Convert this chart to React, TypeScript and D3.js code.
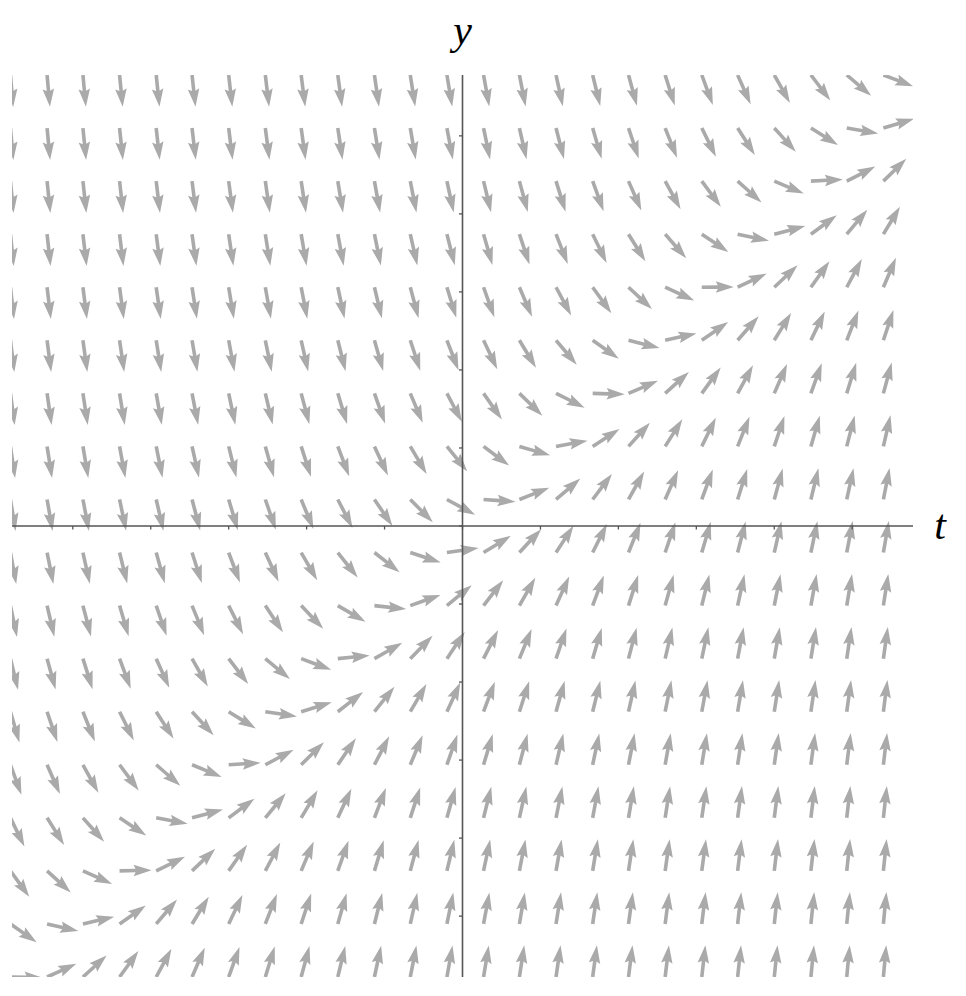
import React, { useEffect, useRef } from 'react';
import * as d3 from 'd3';

// grid of arrow tails (t and y values)
const tGrid = [-5.8, -5.33, -4.87, -4.4, -3.93, -3.47, -3.0, -2.53, -2.07, -1.6, -1.13, -0.67, -0.2,
  0.27, 0.73, 1.2, 1.67, 2.13, 2.6, 3.07, 3.53, 4.0, 4.47, 4.93, 5.4];
const yGrid = [5.78, 5.1, 4.42, 3.74, 3.06, 2.38, 1.7, 1.02, 0.34, -0.34, -1.02, -1.7, -2.38, -3.06,
  -3.74, -4.42, -5.1, -5.78];
const tickValues = [-5, -4, -3, -2, -1, 0, 1, 2, 3, 4, 5];
const axisLabels = { t: 't', y: 'y' };

// slope field dy/dt = t - y
const slope = (t: number, y: number) => t - y;

const W = 966;
const H = 996;

const App = () => {
  const ref = useRef<SVGSVGElement>(null);

  useEffect(() => {
    const svg = d3.select(ref.current);
    svg.selectAll('*').remove();

    const x = d3.scaleLinear().domain([-5.78, 5.78]).range([12, 913]);
    const y = d3.scaleLinear().domain([-5.78, 5.78]).range([977, 75]);

    svg.append('defs').append('clipPath').attr('id', 'plot')
      .append('rect')
      .attr('x', 12).attr('y', 75)
      .attr('width', 901).attr('height', 902);

    const pts = d3.cross(tGrid, yGrid).map(([t, yy]) => ({ t, y: yy, s: slope(t, yy) }));

    // arrow shape along +x, tail at origin
    const L = 32, sw = 3.6, hw = 11.5, hl = 18, ha = 16;
    const arrowPath = `M0,${-sw / 2} L${L - ha},${-sw / 2} L${L - hl},${-hw / 2} L${L},0 L${L - hl},${hw / 2} L${L - ha},${sw / 2} L0,${sw / 2} Z`;

    svg.append('g').attr('clip-path', 'url(#plot)')
      .selectAll('path')
      .data(pts)
      .join('path')
      .attr('d', arrowPath)
      .attr('fill', '#aaaaaa')
      .attr('transform', d => {
        const ang = -Math.atan(d.s) * 180 / Math.PI;
        return `translate(${x(d.t)},${y(d.y)}) rotate(${ang})`;
      });

    const axisColor = '#555';
    const g = svg.append('g');
    // x axis
    g.append('line')
      .attr('x1', 12).attr('x2', 913)
      .attr('y1', y(0)).attr('y2', y(0))
      .attr('stroke', axisColor).attr('stroke-width', 1.6);
    g.selectAll('.xt').data(tickValues).join('line')
      .attr('x1', d => x(d)).attr('x2', d => x(d))
      .attr('y1', y(0)).attr('y2', y(0) + 3.5)
      .attr('stroke', axisColor).attr('stroke-width', 1.3);
    // y axis
    g.append('line')
      .attr('x1', x(0)).attr('x2', x(0))
      .attr('y1', 75).attr('y2', 977)
      .attr('stroke', axisColor).attr('stroke-width', 1.6);
    g.selectAll('.yt').data(tickValues).join('line')
      .attr('x1', x(0) - 3.5).attr('x2', x(0))
      .attr('y1', d => y(d)).attr('y2', d => y(d))
      .attr('stroke', axisColor).attr('stroke-width', 1.3);

    g.append('text')
      .attr('x', 940).attr('y', y(0) + 13)
      .attr('text-anchor', 'middle')
      .attr('font-family', 'Liberation Serif, serif')
      .attr('font-style', 'italic')
      .attr('font-size', 42)
      .text(axisLabels.t);
    g.append('text')
      .attr('x', x(0)).attr('y', 44)
      .attr('text-anchor', 'middle')
      .attr('font-family', 'Liberation Serif, serif')
      .attr('font-style', 'italic')
      .attr('font-size', 42)
      .text(axisLabels.y);
  }, []);

  return (
    <svg ref={ref} width={W} height={H}
      style={{ position: 'absolute', left: 0, top: 0, background: '#fff' }} />
  );
};

export default App;
